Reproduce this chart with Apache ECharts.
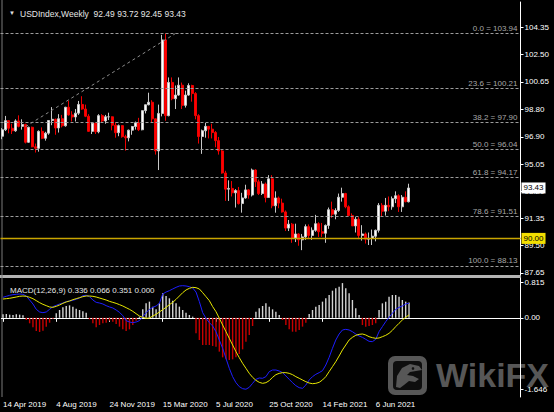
<!DOCTYPE html>
<html><head><meta charset="utf-8">
<style>html,body{margin:0;padding:0;background:#000;}#c{width:554px;height:412px;}</style>
<script src="https://cdn.jsdelivr.net/npm/echarts@6/dist/echarts.min.js"></script>
</head><body><div id="c"></div>
<script>
const symbolName = 'USDIndex,Weekly';
const firstWeek = '2019-04-14';
const opens = [
96.95,97.39,98.01,97.49,97.32,97.99,97.62,97.75,96.54,97.56,
96.23,96.13,97.28,96.81,97.16,98.02,98.10,97.51,98.14,97.66,
98.92,98.40,98.26,98.52,99.11,98.80,98.31,97.28,97.84,97.25,
98.35,97.99,98.27,98.27,97.70,97.19,97.67,96.92,96.84,97.36,
97.61,97.86,97.39,98.69,99.09,99.26,98.13,95.95,98.50,103.50,
98.35,100.61,99.50,99.75,100.42,99.05,99.75,100.40,99.85,98.35,
96.93,97.32,97.62,97.43,97.20,96.65,95.95,94.45,93.35,93.40,
93.10,93.25,92.37,92.75,93.30,92.95,94.65,93.85,93.05,93.70,
92.78,94.05,92.22,92.75,92.40,91.80,90.70,90.97,90.00,90.30,
89.90,90.10,90.80,90.20,90.55,91.00,90.45,90.35,90.88,91.95,
91.65,91.90,92.80,93.05,92.15,91.55,90.85,91.30,90.20,90.30,
89.95,90.00,90.15,90.55,92.25,91.85,92.25,92.15,92.70,92.90,
92.15,92.80,92.49];
const highs = [
97.50,98.33,98.05,97.80,98.10,98.37,98.10,97.80,97.60,97.60,
96.45,97.35,97.55,97.25,98.05,98.93,98.15,98.45,98.40,98.95,
99.37,98.65,98.80,99.35,99.67,99.10,98.45,97.85,97.85,98.45,
98.45,98.40,98.55,98.30,97.90,97.75,97.70,97.05,97.40,97.65,
97.95,98.20,98.70,99.10,99.91,99.40,98.15,99.10,103.85,103.94,
100.95,100.95,100.40,100.95,100.60,100.05,100.55,100.45,99.95,98.45,
97.40,97.85,97.65,97.80,97.30,96.90,96.05,94.60,93.95,93.90,
93.35,93.50,93.10,93.65,93.35,94.75,94.70,94.00,93.90,93.80,
94.30,94.30,93.20,92.85,92.70,91.90,91.25,91.05,91.00,90.35,
90.30,90.95,90.95,90.75,91.60,91.10,91.05,90.95,92.10,92.50,
92.05,93.05,93.45,93.10,92.25,91.70,91.45,91.45,90.90,90.40,
90.40,90.60,90.60,92.40,92.40,92.75,92.85,92.85,93.20,93.00,
92.95,93.20,93.72];
const lows = [
96.75,97.30,97.15,97.10,97.25,97.55,97.40,96.46,96.50,96.20,
95.84,95.90,96.75,96.65,97.05,97.70,97.05,97.20,97.55,97.60,
98.35,97.95,97.95,98.40,98.75,98.25,97.25,97.10,97.10,97.15,
97.90,97.80,98.05,97.35,96.85,96.95,96.85,95.97,96.60,97.05,
97.40,97.30,97.35,98.50,99.05,97.90,95.70,94.65,98.30,98.00,
98.30,99.40,98.80,99.70,98.80,98.90,99.70,99.30,98.10,96.45,
95.75,96.85,96.80,96.80,96.20,95.70,94.40,92.55,92.55,92.85,
92.10,92.30,91.75,92.70,92.70,92.85,93.50,92.95,92.95,92.45,
92.75,92.05,91.75,92.05,91.75,90.50,90.50,89.70,89.75,89.50,
89.20,89.90,89.95,89.90,90.45,90.10,90.10,89.70,90.65,91.40,
91.30,91.80,92.50,92.05,91.50,90.85,90.40,89.95,89.85,89.65,
89.55,89.55,89.80,90.40,91.50,91.55,91.85,91.95,92.40,91.80,
91.80,92.45,92.45];
const closes = [
97.39,98.01,97.49,97.32,97.99,97.62,97.75,96.54,97.56,96.23,
96.13,97.28,96.81,97.16,98.02,98.10,97.51,98.14,97.66,98.92,
98.40,98.26,98.52,99.11,98.80,98.31,97.28,97.84,97.25,98.35,
97.99,98.27,98.27,97.70,97.19,97.67,96.92,96.84,97.36,97.61,
97.86,97.39,98.69,99.09,99.26,98.13,95.95,98.50,103.50,98.35,
100.61,99.50,99.75,100.42,99.05,99.75,100.40,99.85,98.35,96.93,
97.32,97.62,97.43,97.20,96.65,95.95,94.45,93.35,93.40,93.10,
93.25,92.37,92.75,93.30,92.95,94.65,93.85,93.05,93.70,92.78,
94.05,92.22,92.75,92.40,91.80,90.70,90.97,90.00,90.30,89.90,
90.10,90.80,90.20,90.55,91.00,90.45,90.35,90.88,91.95,91.65,
91.90,92.80,93.05,92.15,91.55,90.85,91.30,90.20,90.30,89.95,
90.00,90.15,90.55,92.25,91.85,92.25,92.15,92.70,92.90,92.15,
92.80,92.50,93.43];
const macdMain = [
0.472,0.495,0.518,0.533,0.541,0.548,0.541,0.502,0.410,0.318,
0.195,0.134,0.118,0.134,0.195,0.257,0.287,0.318,0.341,0.372,
0.387,0.403,0.425,0.456,0.510,0.518,0.487,0.410,0.356,0.341,
0.318,0.280,0.249,0.226,0.180,0.126,0.049,-0.066,-0.097,-0.112,
-0.097,-0.066,0.026,0.118,0.195,0.241,0.272,0.333,0.548,0.594,
0.625,0.664,0.702,0.733,0.740,0.733,0.717,0.687,0.594,0.372,
0.118,-0.012,-0.112,-0.189,-0.320,-0.512,-0.703,-0.934,-1.164,-1.356,
-1.495,-1.587,-1.633,-1.646,-1.602,-1.510,-1.418,-1.387,-1.394,-1.356,
-1.241,-1.203,-1.203,-1.226,-1.264,-1.341,-1.418,-1.495,-1.564,-1.610,
-1.625,-1.549,-1.433,-1.356,-1.302,-1.264,-1.218,-1.088,-0.911,-0.703,
-0.512,-0.373,-0.281,-0.266,-0.281,-0.320,-0.373,-0.419,-0.450,-0.496,
-0.542,-0.550,-0.496,-0.320,-0.204,-0.089,0.011,0.103,0.195,0.241,
0.272,0.318,0.336];
const macdSignal = [
0.433,0.441,0.449,0.464,0.479,0.495,0.502,0.495,0.472,0.441,
0.395,0.349,0.310,0.280,0.249,0.241,0.264,0.295,0.333,0.364,
0.387,0.418,0.441,0.464,0.487,0.502,0.502,0.495,0.479,0.456,
0.433,0.410,0.379,0.356,0.333,0.303,0.272,0.233,0.195,0.149,
0.095,0.041,0.011,-0.012,-0.005,0.041,0.080,0.134,0.187,0.241,
0.303,0.356,0.425,0.502,0.579,0.641,0.679,0.702,0.694,0.664,
0.579,0.487,0.395,0.257,0.141,-0.012,-0.166,-0.320,-0.473,-0.627,
-0.780,-0.919,-1.049,-1.164,-1.280,-1.372,-1.441,-1.487,-1.510,-1.495,
-1.449,-1.372,-1.310,-1.280,-1.264,-1.264,-1.280,-1.310,-1.356,-1.394,
-1.433,-1.472,-1.503,-1.518,-1.510,-1.487,-1.433,-1.356,-1.241,-1.126,
-1.011,-0.880,-0.742,-0.627,-0.512,-0.450,-0.404,-0.381,-0.373,-0.396,
-0.435,-0.458,-0.473,-0.465,-0.435,-0.404,-0.358,-0.289,-0.204,-0.127,
-0.051,0.011,0.066];
const macdHist = [
0.080,0.088,0.072,0.065,0.080,0.072,0.057,-0.051,-0.127,-0.220,
-0.304,-0.327,-0.296,-0.204,-0.112,-0.020,0.103,0.180,0.241,0.272,
0.287,0.257,0.210,0.180,0.149,0.118,-0.035,-0.127,-0.220,-0.166,
-0.127,-0.112,-0.066,-0.089,-0.143,-0.204,-0.266,-0.304,-0.266,-0.166,
-0.066,0.026,0.195,0.333,0.372,0.257,0.195,0.333,0.564,0.502,
0.449,0.395,0.333,0.257,0.180,0.118,0.065,0.026,-0.358,-0.512,
-0.627,-0.627,-0.627,-0.649,-0.665,-0.780,-0.911,-0.957,-0.972,-0.957,
-0.911,-0.834,-0.727,-0.550,-0.396,-0.189,0.141,0.218,0.272,0.333,
0.257,0.195,0.141,0.065,-0.051,-0.166,-0.266,-0.320,-0.320,-0.281,
-0.204,-0.112,0.088,0.180,0.257,0.295,0.372,0.449,0.525,0.625,
0.679,0.717,0.800,0.679,0.564,0.410,0.218,0.065,-0.166,-0.204,
-0.189,-0.166,-0.127,0.180,0.333,0.372,0.487,0.525,0.525,0.487,
0.410,0.372,0.351];
const macdInfo = [0.336, 0.066, 0.351, 0.000];
const priceTicks = [87.65, 89.50, 91.35, 93.20, 95.05, 96.90, 98.80, 100.65, 102.50, 104.35];
const macdTicks = [0.815, 0.00, -1.646];
const macdTickText = ['0.815', '0.00', '-1.646'];
const xLabelDates = ['2019-04-14','2019-08-04','2019-11-24','2020-03-15','2020-07-05','2020-10-25','2021-02-14','2021-06-06'];
const fibLevels = [0.0, 23.6, 38.2, 50.0, 61.8, 78.6, 100.0];
const fibPrices = [103.94, 100.21, 97.90, 96.04, 94.17, 91.51, 88.13];
const hLinePrice = 90.00;
const trendLine = [['2019-06-02', 97.6], ['2020-04-12', 103.94]];

const FONT = '"Liberation Sans", Arial, sans-serif';
const MONTHS = ['Jan','Feb','Mar','Apr','May','Jun','Jul','Aug','Sep','Oct','Nov','Dec'];
const TOTAL_SLOTS = 156;
const t0 = new Date(firstWeek + 'T00:00:00Z').getTime();
const categories = [];
for (let i = 0; i < TOTAL_SLOTS; i++) categories.push(new Date(t0 + i * 7 * 864e5).toISOString().slice(0, 10));
function fmtDate(s) { const d = new Date(s + 'T00:00:00Z'); return d.getUTCDate() + ' ' + MONTHS[d.getUTCMonth()] + ' ' + d.getUTCFullYear(); }

const candleData = opens.map((o, i) => [o, closes[i], lows[i], highs[i]]);
const N = closes.length;
const lastInfo = [opens[N-1], highs[N-1], lows[N-1], closes[N-1]].map(v => v.toFixed(2)).join(' ');

const chart = echarts.init(document.getElementById('c'), null, {renderer: 'svg', width: 554, height: 412});
const GL = 0.5, GW = 520;
chart.setOption({
  animation: false,
  backgroundColor: '#000',
  title: [
    {text: '▼', left: 4, top: 5, textStyle: {color: '#e0e0e0', fontSize: 6, fontFamily: FONT, fontWeight: 'normal'}},
    {text: symbolName + '  ' + lastInfo, left: 15, top: 4, textStyle: {color: '#e6e6e6', fontSize: 8.5, fontFamily: FONT, fontWeight: 'normal'}},
    {text: 'MACD(12,26,9) ' + macdInfo.map(v => v.toFixed(3)).join(' '), left: 5, top: 281, textStyle: {color: '#e6e6e6', fontSize: 8, fontFamily: FONT, fontWeight: 'normal'}}
  ],
  grid: [
    {left: GL, width: GW, top: 2, height: 273},
    {left: GL, width: GW, top: 278, height: 119}
  ],
  xAxis: [
    {type: 'category', gridIndex: 0, data: categories, boundaryGap: true, show: false},
    {type: 'category', gridIndex: 1, data: categories, boundaryGap: true,
     axisLine: {show: true, lineStyle: {color: '#ffffff', width: 1}},
     axisTick: {show: true, alignWithLabel: true, length: 4, lineStyle: {color: '#ffffff'}, interval: (i, v) => xLabelDates.includes(v)},
     axisLabel: {show: true, interval: (i, v) => xLabelDates.includes(v), formatter: v => fmtDate(v), align: 'left', margin: 3, color: '#ffffff', fontSize: 8, fontFamily: FONT}}
  ],
  yAxis: [
    {type: 'value', gridIndex: 0, position: 'right', min: 87.51, max: 106.08, scale: true,
     splitLine: {show: false},
     axisLine: {show: true, lineStyle: {color: '#ffffff'}},
     axisTick: {show: true, length: 3, customValues: priceTicks, lineStyle: {color: '#ffffff'}},
     axisLabel: {show: true, customValues: priceTicks, formatter: v => v.toFixed(2), margin: 4, color: '#ffffff', fontSize: 8, fontFamily: FONT}},
    {type: 'value', gridIndex: 1, position: 'right', min: -1.825, max: 0.917,
     splitLine: {show: false},
     axisLine: {show: true, lineStyle: {color: '#ffffff'}},
     axisTick: {show: true, length: 3, customValues: macdTicks, lineStyle: {color: '#ffffff'}},
     axisLabel: {show: true, customValues: macdTicks, formatter: v => macdTickText[macdTicks.findIndex(t => Math.abs(t - v) < 1e-6)] || '', margin: 4, color: '#ffffff', fontSize: 8, fontFamily: FONT}}
  ],
  series: [
    {type: 'candlestick', xAxisIndex: 0, yAxisIndex: 0, data: candleData, barWidth: 2.4,
     itemStyle: {color: '#ffffff', color0: '#ff0000', borderColor: '#c8c8c8', borderColor0: '#ee0000', borderWidth: 1},
     markLine: {symbol: ['none', 'none'], silent: true, animation: false, z: 10,
       data: [
         ...fibLevels.map((lv, k) => ({yAxis: fibPrices[k],
            lineStyle: {color: '#9c9c9c', type: [3, 2], width: 1},
            label: {show: true, position: 'insideEndTop', distance: [3, 1], formatter: lv.toFixed(1) + ' = ' + fibPrices[k].toFixed(2), color: '#a8a8a8', fontSize: 8, fontFamily: FONT}})),
         {yAxis: hLinePrice, lineStyle: {color: '#c8a400', type: 'solid', width: 1.3},
          label: {show: true, position: 'end', distance: 1, formatter: hLinePrice.toFixed(2), color: '#000', backgroundColor: '#f2de00', padding: [2, 2, 1, 2], fontSize: 8, fontFamily: FONT}},
         {yAxis: closes[N-1], lineStyle: {color: 'rgba(0,0,0,0)', type: 'solid', width: 1},
          label: {show: true, position: 'end', distance: 1, formatter: closes[N-1].toFixed(2), color: '#000', backgroundColor: '#ffffff', padding: [2, 2, 1, 2], fontSize: 8, fontFamily: FONT}},
         [{coord: trendLine[0], lineStyle: {color: '#8c8c8c', type: [3, 3], width: 1}, label: {show: false}},
          {coord: trendLine[1], lineStyle: {color: '#8c8c8c', type: [3, 3], width: 1}, label: {show: false}}]
       ]}
    },
    {type: 'bar', xAxisIndex: 1, yAxisIndex: 1, data: macdHist, barWidth: 1.4,
     itemStyle: {color: p => p.value >= 0 ? '#d4d4d4' : '#c80000'}},
    {type: 'line', xAxisIndex: 1, yAxisIndex: 1, data: macdMain, symbol: 'none', lineStyle: {color: '#1e1eff', width: 1}},
    {type: 'line', xAxisIndex: 1, yAxisIndex: 1, data: macdSignal, symbol: 'none', lineStyle: {color: '#e6e600', width: 1}}
  ],
  graphic: [
    {type: 'rect', shape: {x: 0, y: 275, width: 521, height: 3}, style: {fill: '#b4b4b4'}, silent: true},
    {type: 'line', shape: {x1: 2, y1: 0, x2: 2, y2: 397}, style: {stroke: '#7a7a7a', lineWidth: 1}, silent: true},
    {type: 'group', left: 388, top: 356, silent: true, children: [
      {type: 'rect', shape: {x: 0, y: 0, width: 39, height: 39, r: 7}, style: {fill: '#575757'}},
      {type: 'rect', shape: {x: 5, y: 5, width: 29, height: 29, r: 4}, style: {fill: '#0e0e0e'}},
      {type: 'polygon', shape: {points: [[8,31],[9,20],[14,12],[22,8],[31,10],[34,14],[28,15],[22,16],[19,19],[25,20],[31,23],[27,26],[21,25],[16,29],[12,32]]}, style: {fill: '#575757'}},
      {type: 'circle', shape: {cx: 25, cy: 12.5, r: 1.3}, style: {fill: '#0e0e0e'}}
    ]},
    {type: 'text', left: 436, top: 358, silent: true, style: {text: 'WikiFX', fill: '#575757', font: 'bold 34px "Liberation Sans", Arial, sans-serif'}}
  ]
});
</script></body></html>
